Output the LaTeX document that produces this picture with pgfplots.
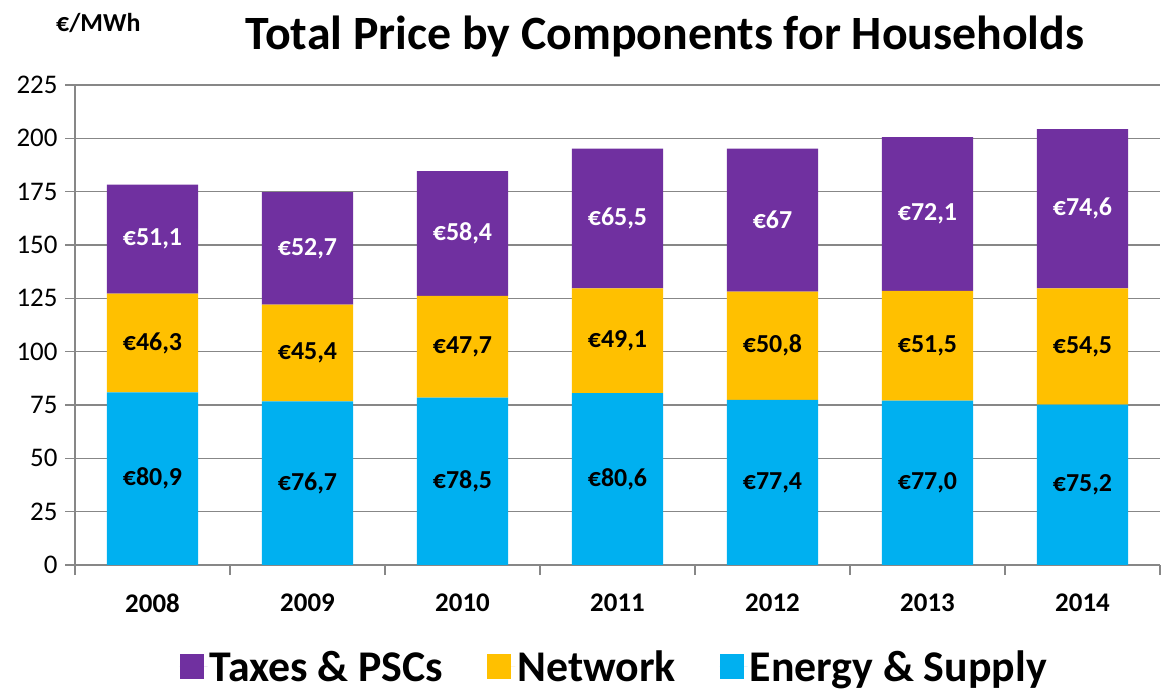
\documentclass[border=0pt]{standalone}
\usepackage{pgfplots}
\pgfplotsset{compat=1.18}
\usepackage{fontspec}
\setmainfont{Carlito}
\definecolor{cTax}{HTML}{7030A0}
\definecolor{cNet}{HTML}{FFC000}
\definecolor{cEn}{HTML}{00B0F0}
\definecolor{cGrid}{HTML}{878787}
\begin{document}
\begin{tikzpicture}
\useasboundingbox (0,0) rectangle (1166bp,695bp);
\begin{axis}[
  at={(75bp,130bp)}, anchor=south west,
  scale only axis, width=1085bp, height=480bp,
  ybar stacked, bar width=0.59,
  xmin=-0.5, xmax=6.5, ymin=0, ymax=225,
  ytick={0,25,...,225},
  xtick={0,...,6},
  xticklabels={2008,2009,2010,2011,2012,2013,2014},
  minor xtick={-0.5,0.5,...,6.5},
  axis x line*=bottom, axis y line*=left,
  ymajorgrids, grid style={cGrid, line width=1.6bp},
  axis line style={cGrid, line width=1.6bp},
  tick align=outside,
  major tick length=10bp, minor tick length=10bp,
  major x tick style={draw=none},
  minor x tick style={cGrid, line width=1.6bp},
  ytick style={cGrid, line width=1.6bp},
  /pgf/number format/assume math mode=true,
  yticklabel style={font=\fontsize{27}{27}\selectfont, xshift=-4bp},
  xticklabel style={font=\fontsize{27}{27}\selectfont\bfseries, yshift=-15bp},
  point meta=explicit symbolic,
  nodes near coords,
  every node near coord/.append style={anchor=center, font=\fontsize{26}{26}\selectfont\bfseries},
  legend columns=3, reverse legend,
  legend style={at={(0.497,-0.212)}, anchor=center, draw=none, fill=none,
     font=\fontsize{44}{44}\selectfont\bfseries,
     /tikz/every even column/.append style={column sep=42bp}},
  legend image code/.code={\fill[#1] (0bp,-12bp) rectangle (24bp,13bp); \path (0bp,0bp) -- (28bp,0bp);},
]
\addplot+[fill=cEn, draw=none, every node near coord/.append style={text=black}] coordinates {
 (0,80.9) [€80,9] (1,76.7) [€76,7] (2,78.5) [€78,5] (3,80.6) [€80,6]
 (4,77.4) [€77,4] (5,77.0) [€77,0] (6,75.2) [€75,2]};
\addlegendentry{Energy \& Supply}
\addplot+[fill=cNet, draw=none, every node near coord/.append style={text=black}] coordinates {
 (0,46.3) [€46,3] (1,45.4) [€45,4] (2,47.7) [€47,7] (3,49.1) [€49,1]
 (4,50.8) [€50,8] (5,51.5) [€51,5] (6,54.5) [€54,5]};
\addlegendentry{Network}
\addplot+[fill=cTax, draw=none, every node near coord/.append style={text=white}] coordinates {
 (0,51.1) [€51,1] (1,52.7) [€52,7] (2,58.4) [€58,4] (3,65.5) [€65,5]
 (4,67.0) [€67] (5,72.1) [€72,1] (6,74.6) [€74,6]};
\addlegendentry{Taxes \& PSCs}
\end{axis}
\node[font=\fontsize{48}{48}\selectfont\bfseries, anchor=base] at (665bp,645bp) {Total Price by Components for Households};
\node[font=\fontsize{26}{26}\selectfont\bfseries, anchor=base west, inner sep=0pt] at (56bp,663bp) {€/MWh};
\end{tikzpicture}
\end{document}
